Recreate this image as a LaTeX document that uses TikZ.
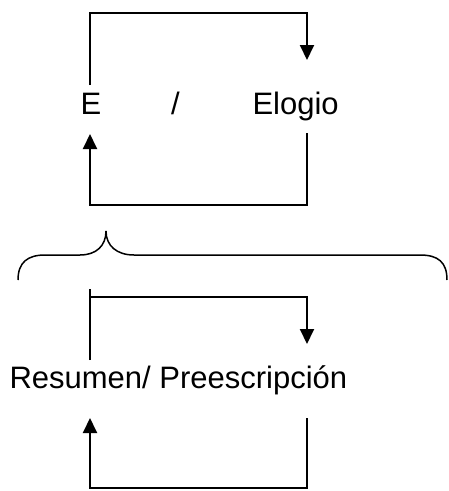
\documentclass[tikz,border=0pt]{standalone}
\usepackage{fontspec}
\setmainfont{Liberation Sans}
\usetikzlibrary{arrows.meta}
\tikzset{%
  >={Triangle[length=15pt,width=14pt]}, % filled arrow heads
  inner sep=0pt,%
  outer sep=0pt,%
  loop line/.style={line width=2pt},%
  brace line/.style={line width=1.5pt},%
  word/.style={font=\fontsize{31}{36}\selectfont,anchor=base west}%
}
\begin{document}
\begin{tikzpicture}[x=1pt,y=-1pt] % "E / Elogio" loops

    \useasboundingbox (0,0) rectangle (449,491);

    \def\xL{90} % left side of the loops
    \def\xR{307} % right side of the loops

    % upper loop
    \node[word] (E) at (80.5,114) {E};
    \node[word] (slash) at (171,114) {/};
    \node[word] (Elogio) at (252.5,114) {Elogio};

    \coordinate (ETop) at (\xL,85);
    \coordinate (ElogioTop) at (\xR,60);
    \coordinate (ElogioBot) at (\xR,133);
    \coordinate (EBot) at (\xL,134);

    \draw[loop line,->] (ETop) -- (\xL,13) -- (\xR,13) -- (ElogioTop);
    \draw[loop line,->] (ElogioBot) -- (\xR,205) -- (\xL,205) -- (EBot);

    % brace
    \draw[brace line] (18,280) .. controls (18,262) and (28,255) .. (45,255)
        -- (80,255) .. controls (96,255) and (106,246) .. (106,231)
        .. controls (106,246) and (117,255) .. (134,255)
        -- (420,255) .. controls (438,255) and (447,262) .. (447,280);

    % lower loop
    \node[word] (Resumen) at (9.5,388) {Resumen/ Preescripción};

    \coordinate (RTop) at (\xL,360);
    \coordinate (RPeak) at (\xL,289);
    \coordinate (PTop) at (\xR,344);
    \coordinate (PBot) at (\xR,418);
    \coordinate (RBot) at (\xL,418);

    \draw[loop line] (RTop) -- (RPeak);
    \draw[loop line,->] (\xL,297) -- (\xR,297) -- (PTop);
    \draw[loop line,->] (PBot) -- (\xR,488) -- (\xL,488) -- (RBot);

\end{tikzpicture}
\end{document}
